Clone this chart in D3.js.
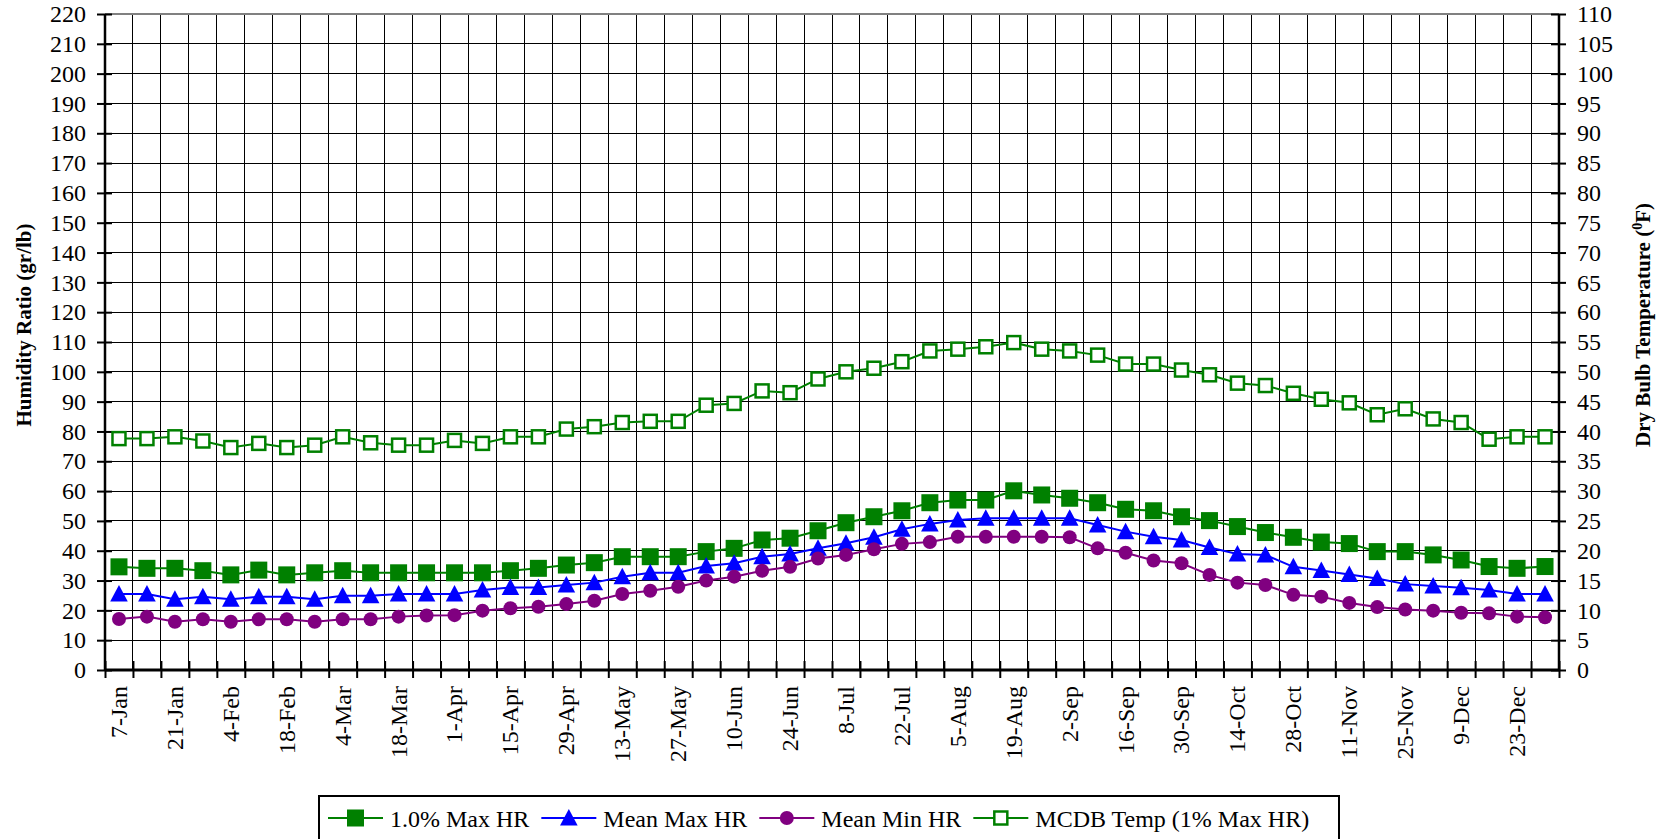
<!DOCTYPE html>
<html>
<head>
<meta charset="utf-8">
<script src="https://cdn.jsdelivr.net/npm/d3@7"></script>
<style>
  html, body { margin: 0; padding: 0; background: #fff; }
  svg { display: block; }
  text { font-family: "Liberation Serif", "Times New Roman", serif; fill: #000; }
</style>
</head>
<body>
<svg id="chart" width="1669" height="839"></svg>
<script>
// Weekly dates (one point per week)
const weeks = ["7-Jan","14-Jan","21-Jan","28-Jan","4-Feb","11-Feb","18-Feb","25-Feb",
  "4-Mar","11-Mar","18-Mar","25-Mar","1-Apr","8-Apr","15-Apr","22-Apr","29-Apr",
  "6-May","13-May","20-May","27-May","3-Jun","10-Jun","17-Jun","24-Jun",
  "1-Jul","8-Jul","15-Jul","22-Jul","29-Jul","5-Aug","12-Aug","19-Aug","26-Aug",
  "2-Sep","9-Sep","16-Sep","23-Sep","30-Sep","7-Oct","14-Oct","21-Oct","28-Oct",
  "4-Nov","11-Nov","18-Nov","25-Nov","2-Dec","9-Dec","16-Dec","23-Dec","30-Dec"];

// Humidity ratio series (gr/lb)
const maxHR1 = [34.6,34.1,34.1,33.3,31.9,33.5,31.9,32.6,33.3,32.6,32.6,32.6,32.6,32.6,
  33.3,34.1,35.2,36.0,38.0,38.0,38.0,39.7,40.8,43.6,44.2,46.7,49.4,51.4,53.4,56.1,
  57.0,57.0,60.1,58.7,57.6,56.1,53.9,53.4,51.4,50.1,48.1,46.1,44.5,42.9,42.4,39.7,
  39.7,38.6,36.9,34.7,34.1,34.7];
const meanMaxHR = [25.5,25.5,23.7,24.6,23.7,24.6,24.6,23.7,24.9,24.9,25.5,25.5,25.5,
  26.8,27.7,27.7,28.5,29.3,31.3,32.6,32.6,34.9,35.8,38.0,38.9,40.8,42.5,44.5,47.2,
  49.0,50.3,50.9,50.9,50.9,50.9,48.6,46.4,44.7,43.6,41.1,38.9,38.6,34.6,33.4,32.0,
  30.7,28.8,28.2,27.6,26.8,25.5,25.5];
const meanMinHR = [17.1,17.9,16.2,17.0,16.2,17.0,17.0,16.2,17.0,17.0,17.9,18.3,18.4,
  19.9,20.7,21.2,22.1,23.2,25.5,26.6,27.9,30.0,31.3,33.3,34.6,37.4,38.6,40.5,42.3,
  42.9,44.7,44.7,44.7,44.7,44.5,40.8,39.3,36.7,35.8,31.9,29.3,28.5,25.2,24.6,22.5,
  21.1,20.3,19.9,19.2,19.0,17.9,17.7];
// Mean coincident dry bulb temperature (°F), right axis
const mcdbTemp = [38.8,38.8,39.1,38.4,37.3,38.0,37.3,37.7,39.1,38.1,37.7,37.7,38.5,
  38.0,39.1,39.1,40.4,40.8,41.5,41.7,41.7,44.4,44.7,46.8,46.5,48.8,50.0,50.6,51.7,
  53.5,53.8,54.2,54.9,53.8,53.5,52.8,51.3,51.3,50.3,49.5,48.1,47.7,46.4,45.4,44.8,
  42.8,43.8,42.1,41.5,38.7,39.1,39.1];

const leftTicks = d3.range(0, 221, 10);
const rightTicks = d3.range(0, 111, 5);
const seriesNames = ["1.0% Max HR", "Mean Max HR", "Mean Min HR", "MCDB Temp (1% Max HR)"];

const svg = d3.select("#chart");
const L = 105, R = 1559, T = 14, B = 670;

const x = d3.scaleBand().domain(d3.range(weeks.length)).range([L, R]).paddingInner(0).paddingOuter(0);
const xb = d3.scaleLinear().domain([0, weeks.length]).range([L, R]);
const yL = d3.scaleLinear().domain([0, 220]).range([B, T]);
const yR = d3.scaleLinear().domain([0, 110]).range([B, T]);
const cx = i => x(i) + x.bandwidth() / 2;

// Grid
const grid = svg.append("g");
grid.selectAll("line.h").data(leftTicks.slice(0, -1)).join("line")
  .attr("x1", L).attr("x2", R).attr("y1", d => yL(d)).attr("y2", d => yL(d))
  .attr("stroke", "#000").attr("stroke-width", 1).attr("shape-rendering", "crispEdges");
grid.selectAll("line.v").data(d3.range(1, weeks.length)).join("line")
  .attr("x1", d => xb(d)).attr("x2", d => xb(d)).attr("y1", T).attr("y2", B)
  .attr("stroke", "#000").attr("stroke-width", 1).attr("shape-rendering", "crispEdges");
grid.append("line").attr("x1", L).attr("x2", R).attr("y1", yL(220)).attr("y2", yL(220))
  .attr("stroke", "#808080").attr("stroke-width", 2);

// Left axis
const gl = svg.append("g").attr("transform", `translate(${L},0)`)
  .call(d3.axisLeft(yL).tickValues(leftTicks).tickSize(8).tickPadding(11).tickFormat(d3.format("d")));
gl.select(".domain").attr("stroke", "#000").attr("stroke-width", 2.5).attr("d", `M0,${T}V${B}`);
gl.selectAll(".tick line").attr("x1", 7).attr("stroke-width", 2);
gl.selectAll(".tick text").attr("font-size", 24).attr("font-family", "Liberation Serif").attr("fill", "#000");

// Right axis
const gr = svg.append("g").attr("transform", `translate(${R},0)`)
  .call(d3.axisRight(yR).tickValues(rightTicks).tickSize(7).tickPadding(11).tickFormat(d3.format("d")));
gr.select(".domain").attr("stroke", "#000").attr("stroke-width", 2.5).attr("d", `M0,${T}V${B}`);
gr.selectAll(".tick line").attr("x1", -8).attr("stroke-width", 2);
gr.selectAll(".tick text").attr("font-size", 24).attr("font-family", "Liberation Serif").attr("fill", "#000");

// Bottom axis: ticks at week boundaries, labels every other week
const gb = svg.append("g").attr("transform", `translate(0,${B})`)
  .call(d3.axisBottom(xb).tickValues(d3.range(0, weeks.length + 1)).tickSize(8).tickFormat(""));
gb.select(".domain").attr("stroke", "#000").attr("stroke-width", 3).attr("d", `M${L},0H${R}`);
gb.selectAll(".tick line").attr("y1", -9).attr("stroke-width", 2);

const gx = svg.append("g").attr("transform", `translate(0,${B})`)
  .call(d3.axisBottom(x).tickValues(d3.range(0, weeks.length, 2)).tickSize(0).tickFormat(i => weeks[i]));
gx.select(".domain").remove();
gx.selectAll(".tick text")
  .attr("font-size", 24).attr("font-family", "Liberation Serif").attr("fill", "#000")
  .attr("transform", "rotate(-90)")
  .attr("text-anchor", "end")
  .attr("x", -16).attr("y", 0).attr("dy", "0.33em");

// Axis titles
svg.append("text")
  .attr("transform", `translate(31,325) rotate(-90)`)
  .attr("text-anchor", "middle").attr("font-size", 21).attr("font-weight", "bold")
  .text("Humidity Ratio (gr/lb)");
const rt = svg.append("text")
  .attr("transform", `translate(1650,325) rotate(-90)`)
  .attr("text-anchor", "middle").attr("font-size", 21).attr("font-weight", "bold");
rt.append("tspan").text("Dry Bulb Temperature (");
rt.append("tspan").attr("font-size", 14).attr("dy", -8).text("0");
rt.append("tspan").attr("dy", 8).text("F)");

// Series
const series = [
  {name: seriesNames[0], values: maxHR1, y: yL, color: "#008000", marker: "fsquare"},
  {name: seriesNames[1], values: meanMaxHR, y: yL, color: "#0000ff", marker: "triangle"},
  {name: seriesNames[2], values: meanMinHR, y: yL, color: "#800080", marker: "circle"},
  {name: seriesNames[3], values: mcdbTemp, y: yR, color: "#008000", marker: "osquare"}
];

function drawMarker(g, type, color) {
  if (type === "fsquare") {
    g.append("rect").attr("x", -8.5).attr("y", -8.5).attr("width", 17).attr("height", 17).attr("fill", color);
  } else if (type === "osquare") {
    g.append("rect").attr("x", -6.5).attr("y", -6.5).attr("width", 13).attr("height", 13)
      .attr("fill", "#fff").attr("stroke", color).attr("stroke-width", 2.5);
  } else if (type === "triangle") {
    g.append("path").attr("d", "M0,-9L8.8,7.5L-8.8,7.5Z").attr("fill", color);
  } else {
    g.append("circle").attr("r", 7).attr("fill", color);
  }
}

series.forEach(s => {
  const line = d3.line().x((d, i) => cx(i)).y(d => s.y(d));
  svg.append("path").datum(s.values).attr("d", line)
    .attr("fill", "none").attr("stroke", s.color).attr("stroke-width", 2);
  svg.append("g").selectAll("g").data(s.values).join("g")
    .attr("transform", (d, i) => `translate(${cx(i)},${s.y(d)})`)
    .each(function () { drawMarker(d3.select(this), s.marker, s.color); });
});

// Legend
const lg = svg.append("g");
lg.append("rect").attr("x", 319).attr("y", 796).attr("width", 1020).attr("height", 70)
  .attr("fill", "#fff").attr("stroke", "#000").attr("stroke-width", 2);
let lx = 328;
const ly = 818;
series.forEach(s => {
  lg.append("line").attr("x1", lx).attr("x2", lx + 55).attr("y1", ly).attr("y2", ly)
    .attr("stroke", s.color).attr("stroke-width", 2);
  drawMarker(lg.append("g").attr("transform", `translate(${lx + 27.5},${ly})`), s.marker, s.color);
  const t = lg.append("text").attr("x", lx + 62).attr("y", ly + 9).attr("font-size", 24).text(s.name);
  lx = lx + 62 + t.node().getComputedTextLength() + 12;
});
</script>
</body>
</html>
